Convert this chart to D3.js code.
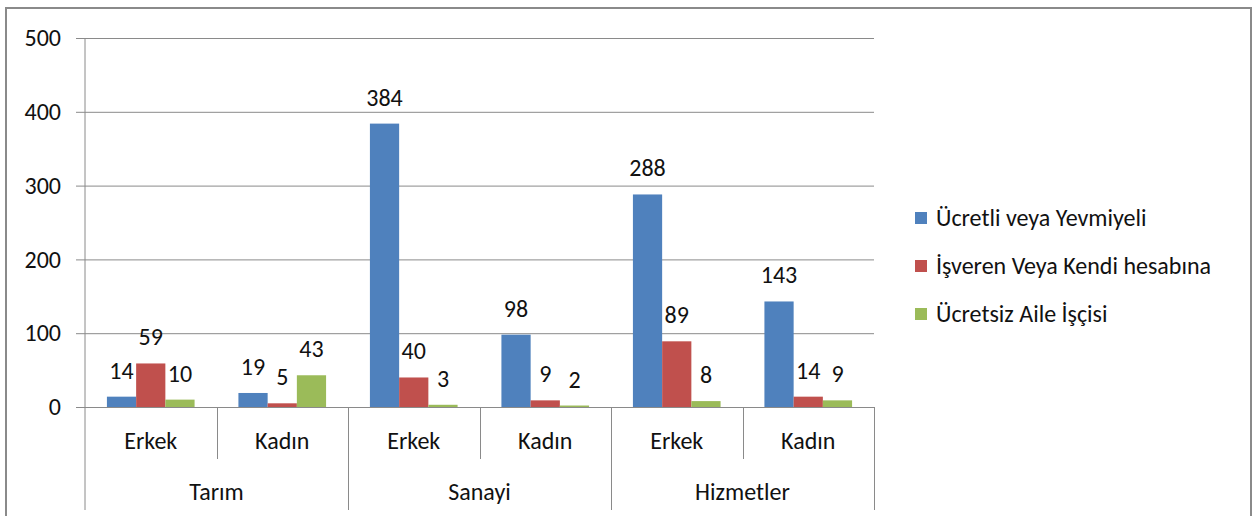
<!DOCTYPE html>
<html lang="tr">
<head>
    <meta charset="UTF-8">
    <script src="https://d3js.org/d3.v7.min.js"></script>
    <title>Chart</title>
    <style>
        body { margin: 0; background: #fff; }
        text { font-family: Calibri, Carlito, Lato, sans-serif; fill: #111; }
    </style>
</head>
<body>
<div id="chart"></div>
<script>
    // ---- data ----
    var groups = ["Tarım", "Sanayi", "Hizmetler"];
    var genders = ["Erkek", "Kadın"];
    var seriesNames = ["Ücretli veya Yevmiyeli", "İşveren Veya Kendi hesabına", "Ücretsiz Aile İşçisi"];
    // order: Tarım Erkek, Tarım Kadın, Sanayi Erkek, Sanayi Kadın, Hizmetler Erkek, Hizmetler Kadın
    var ucretli = [14, 19, 384, 98, 288, 143];
    var isveren = [59, 5, 40, 9, 89, 14];
    var ucretsiz = [10, 43, 3, 2, 8, 9];
    var yTicks = [0, 100, 200, 300, 400, 500];
    var colors = ["#4F81BD", "#C0504D", "#9BBB59"];

    var W = 1257, H = 516;
    var plotLeft = 85, plotRight = 874, plotTop = 38, plotBottom = 407;
    var fontSize = "24px";

    var svg = d3.select("#chart").append("svg")
        .attr("width", W)
        .attr("height", H);

    // outer frame
    svg.append("rect")
        .attr("x", 6).attr("y", 8)
        .attr("width", 1245).attr("height", 530)
        .attr("fill", "none")
        .attr("stroke", "#8a8a8a")
        .attr("stroke-width", 2);

    var cats = [];
    groups.forEach(function (g) {
        genders.forEach(function (s) { cats.push(g + "|" + s); });
    });

    var x = d3.scaleBand().domain(cats).range([plotLeft, plotRight]);
    var xs = d3.scaleBand().domain([0, 1, 2]).range([0, x.bandwidth()])
        .paddingInner(0).paddingOuter(0.75);
    var y = d3.scaleLinear().domain([0, 500]).range([plotBottom, plotTop]);

    // y axis + grid
    var yAxis = svg.append("g")
        .attr("transform", "translate(" + plotLeft + ",0)")
        .call(d3.axisLeft(y).tickValues(yTicks).tickSize(-(plotRight - plotLeft)));
    yAxis.select(".domain").remove();
    yAxis.selectAll(".tick line")
        .attr("x1", -9)
        .attr("stroke", "#8a8a8a");
    yAxis.selectAll(".tick text")
        .style("font-size", fontSize)
        .attr("x", -24)
        .attr("fill", "#111");

    // y axis line
    svg.append("line")
        .attr("x1", plotLeft).attr("x2", plotLeft)
        .attr("y1", plotTop).attr("y2", 510)
        .attr("stroke", "#8a8a8a");

    // category separators
    cats.forEach(function (c, i) {
        if (i === 0) return;
        var xx = Math.round(x(c)) + 0.5;
        svg.append("line")
            .attr("x1", xx).attr("x2", xx)
            .attr("y1", plotBottom).attr("y2", i % 2 === 0 ? 510 : 459)
            .attr("stroke", "#8a8a8a");
    });
    svg.append("line")
        .attr("x1", plotRight + 0.5).attr("x2", plotRight + 0.5)
        .attr("y1", plotBottom).attr("y2", 510)
        .attr("stroke", "#8a8a8a");

    // bars
    var allSeries = [ucretli, isveren, ucretsiz];
    allSeries.forEach(function (vals, si) {
        svg.append("g").selectAll("rect")
            .data(vals)
            .enter()
            .append("rect")
            .attr("x", function (d, i) { return x(cats[i]) + xs(si); })
            .attr("y", function (d) { return y(d); })
            .attr("width", xs.bandwidth())
            .attr("height", function (d) { return plotBottom - y(d); })
            .attr("fill", colors[si]);

        svg.append("g").selectAll("text")
            .data(vals)
            .enter()
            .append("text")
            .text(function (d) { return d; })
            .attr("x", function (d, i) { return x(cats[i]) + xs(si) + xs.bandwidth() / 2; })
            .attr("y", function (d) { return y(d) - 18; })
            .attr("text-anchor", "middle")
            .style("font-size", fontSize);
    });

    // x axis line (on top of bars)
    svg.append("line")
        .attr("x1", 76).attr("x2", plotRight)
        .attr("y1", plotBottom + 0.5).attr("y2", plotBottom + 0.5)
        .attr("stroke", "#8a8a8a");

    // category labels
    svg.append("g").selectAll("text")
        .data(cats)
        .enter()
        .append("text")
        .text(function (d) { return d.split("|")[1]; })
        .attr("x", function (d) { return x(d) + x.bandwidth() / 2; })
        .attr("y", 441)
        .attr("dy", "0.35em")
        .attr("text-anchor", "middle")
        .style("font-size", fontSize);

    // group labels
    svg.append("g").selectAll("text")
        .data(groups)
        .enter()
        .append("text")
        .text(function (d) { return d; })
        .attr("x", function (d) { return x(d + "|Erkek") + x.bandwidth(); })
        .attr("y", 492)
        .attr("dy", "0.35em")
        .attr("text-anchor", "middle")
        .style("font-size", fontSize);

    // legend
    var legend = svg.append("g").selectAll("g")
        .data(seriesNames)
        .enter()
        .append("g")
        .attr("transform", function (d, i) { return "translate(915," + (218 + i * 48) + ")"; });
    legend.append("rect")
        .attr("x", 0).attr("y", -6)
        .attr("width", 12).attr("height", 12)
        .attr("fill", function (d, i) { return colors[i]; });
    legend.append("text")
        .text(function (d) { return d; })
        .attr("x", 21)
        .attr("dy", "0.35em")
        .style("font-size", fontSize);
</script>
</body>
</html>
